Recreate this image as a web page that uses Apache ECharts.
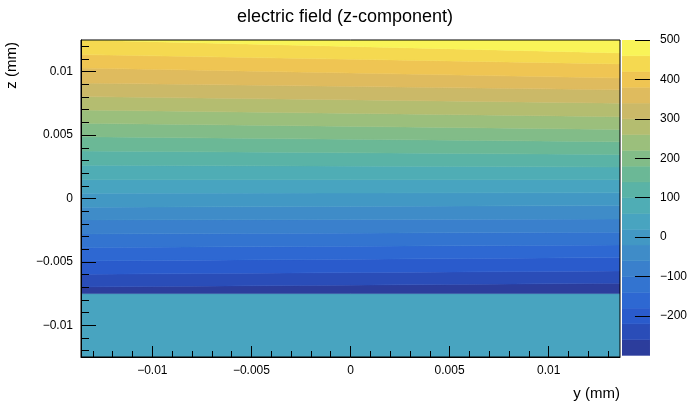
<!DOCTYPE html>
<html>
<head>
<meta charset="utf-8">
<script src="https://cdn.jsdelivr.net/npm/echarts@6/dist/echarts.min.js"></script>
<style>html,body{margin:0;padding:0;background:#fff}#main{width:690px;height:419px}</style>
</head>
<body>
<div id="main"></div>
<script>
// contour levels (lower edge of each colour band), step 40
var levels = [-300,-260,-220,-180,-140,-100,-60,-20,20,60,100,140,180,220,260,300,340,380,420,460];
var levelColors = ['#2c3d9c','#2a4db8','#2a5bcc','#2e68d2','#3374d0','#3a80cc','#3f8cc8','#4298c4',
  '#48a4c0','#4fadb5','#5ab3a6','#6bb896','#82bc88','#9bbf7c','#b4bd70','#cbb968','#dfbb5e','#efc553','#f5d950','#f9f458'];
// z position (mm) of each contour boundary -260 ... 460, read at left (y=-0.0136) and right (y=0.0136) edge
var zLeft  = [-0.00698,-0.00598,-0.00492,-0.00387,-0.0028,-0.00169,-0.00069,0.00042,0.00148,0.00262,
  0.00375,0.00487,0.00593,0.00698,0.00804,0.0091,0.01029,0.01135,0.0125];
var zRight = [-0.00669,-0.00571,-0.00466,-0.00367,-0.00267,-0.00161,-0.00056,0.00045,0.00148,0.00248,
  0.00347,0.00447,0.00545,0.00645,0.00752,0.00857,0.0095,0.01061,0.01148];
var zGap = -0.0075;        // below this the field is flat
var gapValue = 30;
var yMin = -0.0136, yMax = 0.0136, zMin = -0.0125, zMax = 0.0125;
var xTicks = [-0.01,-0.005,0,0.005,0.01];
var zTicks = [-0.01,-0.005,0,0.005,0.01];
var cbTicks = [-200,-100,0,100,200,300,400,500];

function colorOf(v){
  for (var i = levels.length-1; i >= 0; i--) if (v >= levels[i]) return levelColors[i];
  return levelColors[0];
}
// bands: [zLeftLow, zLeftHigh, zRightLow, zRightHigh, value]
var bands = [[zMin, zGap, zMin, zGap, gapValue]];
var lowL = zGap, lowR = zGap;
for (var i = 0; i < levels.length; i++) {
  var hiL = i < zLeft.length ? zLeft[i] : zMax;
  var hiR = i < zRight.length ? zRight[i] : zMax;
  bands.push([lowL, Math.min(hiL, zMax), lowR, Math.min(hiR, zMax), levels[i] + 20]);
  lowL = Math.min(hiL, zMax); lowR = Math.min(hiR, zMax);
}
var cbData = levels.map(function(l){ return [l, l+40]; });
var minors = [];
for (var k = -13; k <= 13; k++) minors.push(k/1000);

function fmt(v){
  if (v === 0) return '0';
  var s = String(+v.toFixed(4));
  return s.replace('-', '\u2212');
}
var font = 'Liberation Sans';
var lbl = { formatter: fmt, fontFamily: font, fontSize: 12, color: '#000' };
var myChart = echarts.init(document.getElementById('main'));
var option = {
  animation: false,
  title: { text: 'electric field (z-component)', left: 'center', top: 3,
    textStyle: { fontFamily: font, fontSize: 18, fontWeight: 'normal', color: '#000' } },
  graphic: [
    { type: 'text', right: 70, top: 386, style: { text: 'y (mm)', font: '15px "Liberation Sans"', fill: '#000' } },
    { type: 'text', left: 4, top: 42, rotation: Math.PI/2, style: { text: 'z (mm)', font: '15px "Liberation Sans"', fill: '#000' } }
  ],
  grid: [
    { left: 81, right: 70, top: 40, bottom: 62, show: true, borderColor: '#000', borderWidth: 1, z: 5 },
    { left: 622, width: 35, top: 40, bottom: 62 }
  ],
  xAxis: [
    { type: 'value', min: yMin, max: yMax, gridIndex: 0, z: 10,
      axisLine: { show: true, onZero: false, lineStyle: { color: '#000' } },
      axisTick: { inside: true, length: 11, customValues: xTicks, lineStyle: { color: '#000' } },
      axisLabel: Object.assign({ customValues: xTicks, margin: 8 }, lbl),
      splitLine: { show: false } },
    { type: 'value', min: yMin, max: yMax, gridIndex: 0, position: 'bottom', z: 10,
      axisLine: { show: false, onZero: false }, axisLabel: { show: false }, splitLine: { show: false },
      axisTick: { inside: true, length: 6, customValues: minors, lineStyle: { color: '#000' } } },
    { type: 'value', min: 0, max: 1, gridIndex: 1, show: false }
  ],
  yAxis: [
    { type: 'value', min: zMin, max: zMax, gridIndex: 0, z: 10,
      axisLine: { show: true, onZero: false, lineStyle: { color: '#000' } },
      axisTick: { inside: true, length: 15, customValues: zTicks, lineStyle: { color: '#000' } },
      axisLabel: Object.assign({ customValues: zTicks, margin: 8 }, lbl),
      splitLine: { show: false } },
    { type: 'value', min: zMin, max: zMax, gridIndex: 0, position: 'left', z: 10,
      axisLine: { show: false, onZero: false }, axisLabel: { show: false }, splitLine: { show: false },
      axisTick: { inside: true, length: 8, customValues: minors, lineStyle: { color: '#000' } } },
    { type: 'value', min: -304, max: 500, gridIndex: 1, position: 'right', z: 10,
      axisLine: { show: false, onZero: false },
      axisTick: { inside: true, length: 15, customValues: cbTicks, lineStyle: { color: '#000' } },
      axisLabel: Object.assign({ customValues: cbTicks, margin: 10 }, lbl),
      splitLine: { show: false } }
  ],
  series: [
    { type: 'custom', xAxisIndex: 0, yAxisIndex: 0, clip: true, data: bands, z: 1,
      renderItem: function(params, api){
        var a = api.coord([yMin, api.value(0)]), b = api.coord([yMax, api.value(2)]),
            c = api.coord([yMax, api.value(3)]), d = api.coord([yMin, api.value(1)]);
        return { type: 'polygon', shape: { points: [a, b, c, d] },
          style: { fill: colorOf(api.value(4)), stroke: colorOf(api.value(4)), lineWidth: 0.5 } };
      } },
    { type: 'custom', xAxisIndex: 2, yAxisIndex: 2, clip: true, data: cbData, z: 1,
      renderItem: function(params, api){
        var p0 = api.coord([0, api.value(0)]), p1 = api.coord([1, api.value(1)]);
        return { type: 'rect', shape: { x: p0[0], y: p1[1], width: p1[0]-p0[0], height: p0[1]-p1[1] },
          style: { fill: colorOf(api.value(0)), stroke: colorOf(api.value(0)), lineWidth: 0.5 } };
      } }
  ]
};
myChart.setOption(option);
</script>
</body>
</html>
